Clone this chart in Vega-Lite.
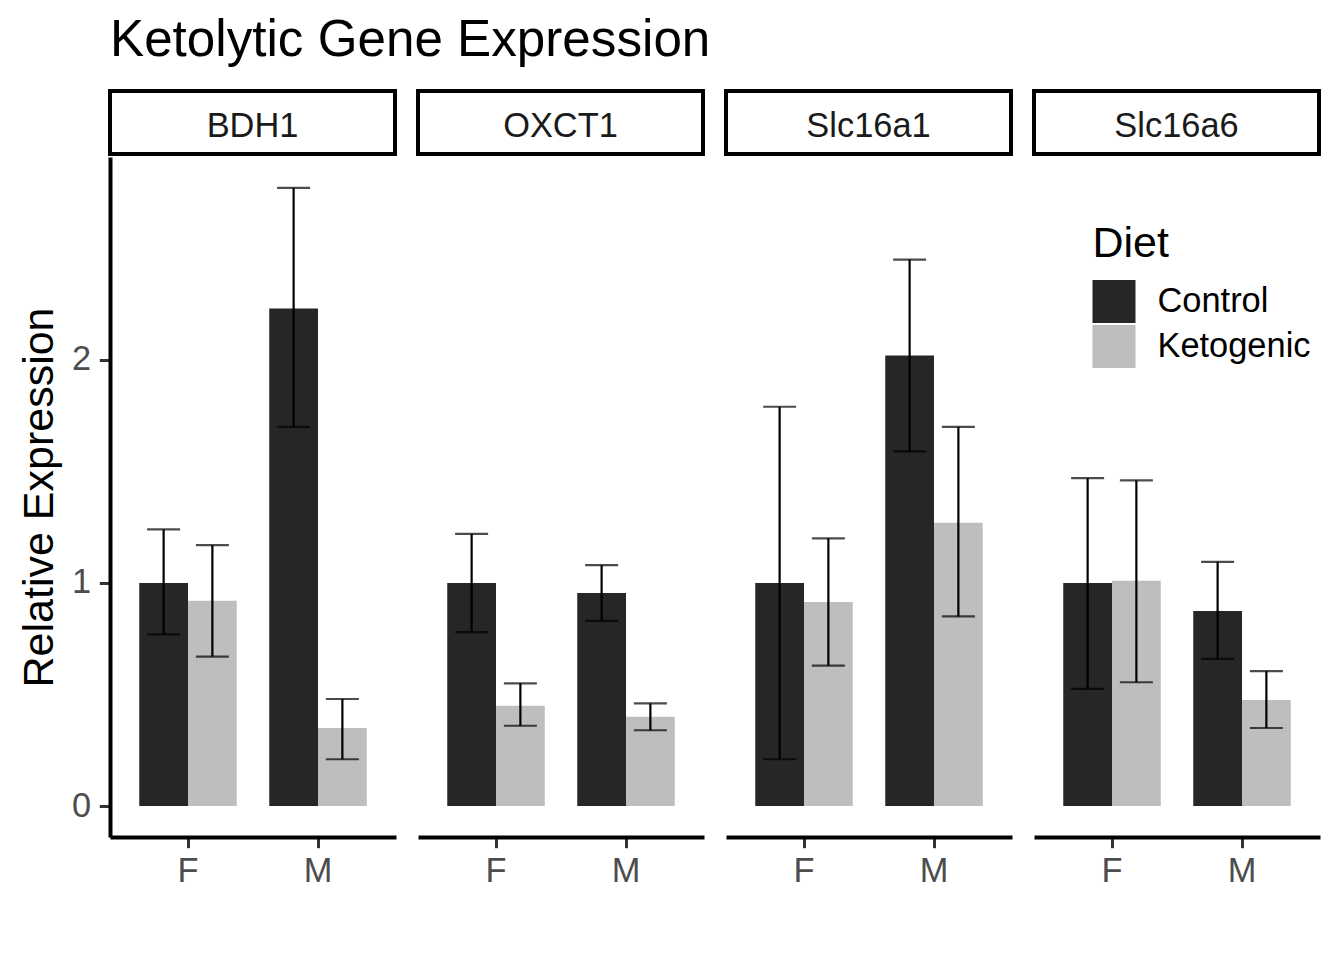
{
  "$schema": "https://vega.github.io/schema/vega-lite/v6.json",
  "padding": {"left": 18, "top": 15, "right": 5, "bottom": 5},
  "title": {"text": "Ketolytic Gene Expression", "anchor": "start", "frame": "group", "fontSize": 51.2, "fontWeight": "normal", "color": "black", "offset": 21.5},
  "datasets": {
    "expr": [
      {"Gene": "BDH1", "Sex": "F", "Diet": "Control", "Mean": 1.0, "Lower": 0.77, "Upper": 1.24},
      {"Gene": "BDH1", "Sex": "F", "Diet": "Ketogenic", "Mean": 0.92, "Lower": 0.67, "Upper": 1.17},
      {"Gene": "BDH1", "Sex": "M", "Diet": "Control", "Mean": 2.23, "Lower": 1.70, "Upper": 2.771},
      {"Gene": "BDH1", "Sex": "M", "Diet": "Ketogenic", "Mean": 0.35, "Lower": 0.21, "Upper": 0.48},
      {"Gene": "OXCT1", "Sex": "F", "Diet": "Control", "Mean": 1.0, "Lower": 0.78, "Upper": 1.22},
      {"Gene": "OXCT1", "Sex": "F", "Diet": "Ketogenic", "Mean": 0.45, "Lower": 0.36, "Upper": 0.55},
      {"Gene": "OXCT1", "Sex": "M", "Diet": "Control", "Mean": 0.955, "Lower": 0.83, "Upper": 1.08},
      {"Gene": "OXCT1", "Sex": "M", "Diet": "Ketogenic", "Mean": 0.40, "Lower": 0.34, "Upper": 0.46},
      {"Gene": "Slc16a1", "Sex": "F", "Diet": "Control", "Mean": 1.0, "Lower": 0.21, "Upper": 1.79},
      {"Gene": "Slc16a1", "Sex": "F", "Diet": "Ketogenic", "Mean": 0.915, "Lower": 0.63, "Upper": 1.20},
      {"Gene": "Slc16a1", "Sex": "M", "Diet": "Control", "Mean": 2.02, "Lower": 1.59, "Upper": 2.45},
      {"Gene": "Slc16a1", "Sex": "M", "Diet": "Ketogenic", "Mean": 1.27, "Lower": 0.85, "Upper": 1.70},
      {"Gene": "Slc16a6", "Sex": "F", "Diet": "Control", "Mean": 1.0, "Lower": 0.525, "Upper": 1.47},
      {"Gene": "Slc16a6", "Sex": "F", "Diet": "Ketogenic", "Mean": 1.01, "Lower": 0.555, "Upper": 1.46},
      {"Gene": "Slc16a6", "Sex": "M", "Diet": "Control", "Mean": 0.875, "Lower": 0.66, "Upper": 1.095},
      {"Gene": "Slc16a6", "Sex": "M", "Diet": "Ketogenic", "Mean": 0.475, "Lower": 0.35, "Upper": 0.605}
    ],
    "genes": [
      {"Gene": "BDH1"},
      {"Gene": "OXCT1"},
      {"Gene": "Slc16a1"},
      {"Gene": "Slc16a6"}
    ]
  },
  "spacing": 1,
  "vconcat": [
    {
      "data": {"name": "genes"},
      "facet": {"column": {"field": "Gene", "type": "nominal", "sort": ["BDH1", "OXCT1", "Slc16a1", "Slc16a6"], "header": null}},
      "spacing": 19,
      "spec": {
        "width": 285,
        "height": 63,
        "view": {"stroke": "black", "strokeWidth": 4},
        "mark": {"type": "text", "fontSize": 34.4, "color": "#1a1a1a", "dy": 4},
        "encoding": {"text": {"field": "Gene", "type": "nominal"}}
      }
    },
    {
      "data": {"name": "expr"},
      "facet": {"column": {"field": "Gene", "type": "nominal", "sort": ["BDH1", "OXCT1", "Slc16a1", "Slc16a6"], "header": null}},
      "spacing": 22,
      "spec": {
        "width": 286,
        "height": 680,
        "encoding": {
          "x": {"field": "Sex", "type": "nominal", "scale": {"paddingInner": 0.25, "paddingOuter": 0.225}, "axis": {"title": null, "labelAngle": 0}},
          "xOffset": {"field": "Diet", "type": "nominal", "sort": ["Control", "Ketogenic"]}
        },
        "layer": [
          {
            "mark": "bar",
            "encoding": {
              "y": {"field": "Mean", "type": "quantitative", "title": "Relative Expression", "scale": {"domain": [-0.1386, 2.9096], "nice": false, "zero": false}, "axis": {"values": [0, 1, 2], "format": "d"}},
              "y2": {"datum": 0},
              "color": {"field": "Diet", "type": "nominal", "scale": {"domain": ["Control", "Ketogenic"], "range": ["#262626", "#bebebe"]}}
            }
          },
          {
            "mark": {"type": "rule", "color": "black", "strokeWidth": 2.2},
            "encoding": {
              "y": {"field": "Lower", "type": "quantitative", "title": "Relative Expression"},
              "y2": {"field": "Upper"}
            }
          },
          {
            "mark": {"type": "tick", "color": "black", "thickness": 2.2, "size": 33},
            "encoding": {"y": {"field": "Lower", "type": "quantitative", "title": "Relative Expression"}}
          },
          {
            "mark": {"type": "tick", "color": "black", "thickness": 2.2, "size": 33},
            "encoding": {"y": {"field": "Upper", "type": "quantitative", "title": "Relative Expression"}}
          }
        ]
      }
    }
  ],
  "config": {
    "font": "Liberation Sans",
    "view": {"stroke": null},
    "axis": {
      "grid": false,
      "domainColor": "black",
      "domainWidth": 4,
      "tickColor": "#333333",
      "tickWidth": 3,
      "tickSize": 10.7,
      "labelFontSize": 34.4,
      "labelColor": "#4d4d4d",
      "labelPadding": 8.6,
      "titleFontSize": 43,
      "titleFontWeight": "normal",
      "titleColor": "black"
    },
    "axisX": {"labelPadding": 7},
    "axisY": {"titlePadding": 10},
    "legend": {
      "orient": "none",
      "legendX": 982.5,
      "legendY": 132,
      "titleFontSize": 43,
      "titleFontWeight": "normal",
      "titleColor": "black",
      "titlePadding": 14,
      "labelFontSize": 34.4,
      "labelColor": "black",
      "labelOffset": 22,
      "symbolType": "square",
      "symbolSize": 1849,
      "symbolStrokeWidth": 0,
      "rowPadding": 2
    }
  }
}
